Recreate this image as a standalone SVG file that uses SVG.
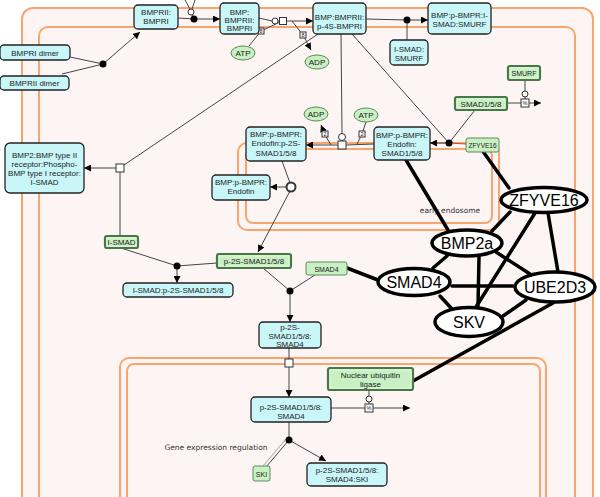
<svg xmlns="http://www.w3.org/2000/svg" width="600" height="497" viewBox="0 0 600 497">
<style>
.comp{fill:#FCF5F4;stroke:#F9A56E;stroke-width:2}
.cx{fill:#C9F7F9;stroke:#222;stroke-width:1.3}
.pr{fill:#C8F0C2;stroke:#5C8A5C;stroke-width:1}
.prm{fill:#C8F0C2;stroke:#4A774A;stroke-width:2.2}
.pri{fill:none;stroke:#E6FBE3;stroke-width:0.8}
.sm{fill:#C8F0C2;stroke:#5C8A5C;stroke-width:1}
.t{font-family:"Liberation Sans",Arial,sans-serif;font-size:8px;fill:#222;text-anchor:middle}
.ts{font-family:"Liberation Sans",Arial,sans-serif;font-size:5.5px;fill:#222;text-anchor:middle}
.lbl{font-family:"DejaVu Sans",sans-serif;font-size:7.5px;fill:#333;text-anchor:middle}
.big{font-family:"Liberation Sans",Arial,sans-serif;font-size:16px;fill:#000;text-anchor:middle}
.ln{fill:none;stroke:#444;stroke-width:1}
.th{fill:none;stroke:#000;stroke-width:3.5;stroke-linecap:round}
.ell{fill:#fff;stroke:#000;stroke-width:3.5}
.dot{fill:#000}
.oc{fill:#fff;stroke:#333;stroke-width:1}
.sq{fill:#fff;stroke:#333;stroke-width:1}
</style>
<defs>
<marker id="ar" viewBox="0 0 10 10" refX="10" refY="5" markerWidth="7" markerHeight="7" orient="auto" markerUnits="userSpaceOnUse">
<path d="M0,0 L10,5 L0,10 z" fill="#000"/>
</marker>
</defs>
<rect width="600" height="497" fill="#fff"/>
<g id="compartments">
<rect class="comp" x="22" y="8" width="571" height="520" rx="11"/>
<rect class="comp" x="39" y="27" width="536" height="500" rx="9"/>
<rect class="comp" x="238" y="143" width="261" height="87" rx="9"/>
<rect class="comp" x="246" y="149" width="246" height="74" rx="7"/>
<text class="lbl" x="450" y="213">early endosome</text>
<rect class="comp" x="120" y="358" width="426" height="160" rx="9"/>
<rect class="comp" x="127" y="364" width="413" height="150" rx="7"/>
<text class="lbl" x="216" y="450">Gene expression regulation</text>
</g>
<g id="connectors">
<line class="ln" x1="70" y1="57" x2="103" y2="64"/>
<line class="ln" x1="62" y1="74" x2="103" y2="64"/>
<line class="ln" x1="103" y1="64" x2="140" y2="32" marker-end="url(#ar)"/>
<line class="ln" x1="185" y1="0" x2="190" y2="9"/>
<line class="ln" x1="195" y1="0" x2="192" y2="9"/>
<line class="ln" x1="192" y1="15" x2="194" y2="19"/>
<line class="ln" x1="178" y1="18" x2="194" y2="19"/>
<line class="ln" x1="194" y1="19" x2="220" y2="19" marker-end="url(#ar)"/>
<line class="ln" x1="259" y1="18" x2="272" y2="21"/>
<line class="ln" x1="249" y1="46" x2="261" y2="31"/>
<line class="ln" x1="261" y1="31" x2="280" y2="22"/>
<line class="ln" x1="278" y1="21" x2="280" y2="21"/>
<line class="ln" x1="287" y1="21" x2="313" y2="21" marker-end="url(#ar)"/>
<polyline class="ln" points="292,21 303,35 311,50" marker-end="url(#ar)"/>
<line class="ln" x1="366" y1="19" x2="407" y2="20"/>
<line class="ln" x1="407" y1="20" x2="428" y2="20" marker-end="url(#ar)"/>
<line class="ln" x1="407" y1="40" x2="407" y2="20"/>
<line class="ln" x1="318" y1="34" x2="124" y2="165"/>
<line class="ln" x1="116" y1="168" x2="84" y2="168" marker-end="url(#ar)"/>
<line class="ln" x1="120" y1="172" x2="120" y2="236"/>
<line class="ln" x1="341" y1="34" x2="342" y2="133"/>
<line class="ln" x1="352" y1="34" x2="449" y2="143"/>
<line class="ln" x1="475" y1="110" x2="449" y2="143"/>
<line class="ln" x1="466" y1="144" x2="449" y2="143" style="stroke:#C0503A"/>
<line class="ln" x1="449" y1="143" x2="430" y2="143" marker-end="url(#ar)"/>
<line class="ln" x1="374" y1="144" x2="346" y2="145"/>
<line class="ln" x1="338" y1="145" x2="306" y2="145" marker-end="url(#ar)"/>
<polyline class="ln" points="366,122 362,134 357,144"/>
<polyline class="ln" points="331,145 325,135 321,125" marker-end="url(#ar)"/>
<line class="ln" x1="282" y1="161" x2="290" y2="183"/>
<line class="ln" x1="288" y1="187" x2="270" y2="187" marker-end="url(#ar)"/>
<line class="ln" x1="290" y1="191" x2="258" y2="252" marker-end="url(#ar)"/>
<line class="ln" x1="121" y1="248" x2="177" y2="266"/>
<line class="ln" x1="217" y1="263" x2="177" y2="266"/>
<line class="ln" x1="177" y1="266" x2="177" y2="283" marker-end="url(#ar)"/>
<line class="ln" x1="263" y1="268" x2="290" y2="291"/>
<line class="ln" x1="315" y1="275" x2="290" y2="291"/>
<line class="ln" x1="290" y1="291" x2="290" y2="322" marker-end="url(#ar)"/>
<line class="ln" x1="289" y1="348" x2="289" y2="359"/>
<line class="ln" x1="289" y1="367" x2="289" y2="397" marker-end="url(#ar)"/>
<line class="ln" x1="331" y1="408" x2="365" y2="408"/>
<line class="ln" x1="373" y1="408" x2="410" y2="408" marker-end="url(#ar)"/>
<line class="ln" x1="369" y1="390" x2="369" y2="396"/>
<line class="ln" x1="369" y1="402" x2="369" y2="404"/>
<line class="ln" x1="507" y1="103" x2="521" y2="103"/>
<line class="ln" x1="529" y1="103" x2="541" y2="103" marker-end="url(#ar)"/>
<line class="ln" x1="525" y1="80" x2="525" y2="91"/>
<line class="ln" x1="525" y1="97" x2="525" y2="99"/>
<line class="ln" x1="289" y1="422" x2="289" y2="440"/>
<line class="ln" x1="266" y1="467" x2="289" y2="440"/>
<line class="ln" x1="263" y1="466" x2="286" y2="439" style="stroke:#666;stroke-width:0.6"/>
<line class="ln" x1="289" y1="440" x2="326" y2="461" marker-end="url(#ar)"/>
<circle class="dot" cx="103" cy="64" r="3.5"/>
<circle class="dot" cx="194" cy="19" r="3.5"/>
<circle class="oc" cx="191" cy="12" r="3"/>
<circle class="oc" cx="275" cy="21" r="3"/>
<rect class="sq" x="279.5" y="17.5" width="7" height="7"/>
<circle class="dot" cx="407" cy="20" r="3.5"/>
<rect class="sq" x="116" y="164" width="8" height="8"/>
<circle class="oc" cx="342" cy="137" r="3.5"/>
<rect class="sq" x="338" y="141" width="8" height="8"/>
<circle class="dot" cx="449" cy="143" r="3.5"/>
<circle cx="291" cy="187" r="4.5" fill="#fff" stroke="#333" stroke-width="2"/>
<circle class="dot" cx="177" cy="266" r="3.5"/>
<circle class="dot" cx="290" cy="291" r="3.5"/>
<rect class="sq" x="285" y="359" width="8" height="8"/>
<rect class="sq" x="365" y="404" width="8" height="8"/>
<text class="ts" x="369" y="410">%</text>
<circle class="oc" cx="369" cy="399" r="3"/>
<rect class="sq" x="521" y="99" width="8" height="8"/>
<text class="ts" x="525" y="105">%</text>
<circle class="oc" cx="525" cy="94" r="3"/>
<circle class="dot" cx="289" cy="440" r="3.5"/>
<rect class="sq" x="258" y="28" width="6" height="6"/>
<text class="ts" x="261" y="33">8</text>
<rect class="sq" x="300" y="32" width="6" height="6"/>
<text class="ts" x="303" y="37">8</text>
<rect class="sq" x="322" y="131" width="6" height="6"/>
<text class="ts" x="325" y="136">2</text>
<rect class="sq" x="359" y="131" width="6" height="6"/>
<text class="ts" x="362" y="136">2</text>
<line class="th" x1="406" y1="160" x2="448" y2="230"/>
<line class="th" x1="482" y1="150" x2="509" y2="188"/>
<line class="th" x1="510" y1="212" x2="492" y2="231"/>
<line class="th" x1="548" y1="213" x2="558" y2="272"/>
<line class="th" x1="535" y1="213" x2="476" y2="307"/>
<line class="th" x1="479" y1="257" x2="478" y2="306"/>
<line class="th" x1="496" y1="252" x2="530" y2="274"/>
<line class="th" x1="447" y1="256" x2="433" y2="268"/>
<line class="th" x1="452" y1="286" x2="513" y2="286"/>
<line class="th" x1="440" y1="296" x2="452" y2="309"/>
<line class="th" x1="526" y1="300" x2="503" y2="316"/>
<line class="th" x1="553" y1="303" x2="413" y2="381"/>
<line class="th" x1="347" y1="268" x2="378" y2="280"/>
</g>
<g id="n-bmpri-dimer"><rect class="cx" x="0" y="45" width="70" height="15" rx="4"/><text class="t" x="35" y="55.5">BMPRI dimer</text></g>
<g id="n-bmprii-dimer"><rect class="cx" x="0" y="76" width="69" height="14" rx="4"/><text class="t" x="34.5" y="86">BMPRII dimer</text></g>
<g id="n-bmprii-bmpri"><rect class="cx" x="134" y="5" width="44" height="24" rx="4"/><text class="t" x="156" y="15">BMPRII:</text><text class="t" x="156" y="24">BMPRI</text></g>
<g id="n-bmp-bmprii-bmpri"><rect class="cx" x="220" y="3" width="39" height="31" rx="4"/><text class="t" x="239.5" y="14.5">BMP:</text><text class="t" x="239.5" y="22.5">BMPRII:</text><text class="t" x="239.5" y="30.5">BMPRI</text></g>
<g id="n-bmp-p4s"><rect class="cx" x="313" y="3" width="53" height="31" rx="4"/><text class="t" x="339.5" y="19.5">BMP:BMPRII:</text><text class="t" x="339.5" y="28.5">p-4S-BMPRI</text></g>
<g id="n-ismad-smurf-complex"><rect class="cx" x="428" y="3" width="63" height="31" rx="4"/><text class="t" x="459.5" y="18">BMP:p-BMPR:I-</text><text class="t" x="459.5" y="27">SMAD:SMURF</text></g>
<g id="n-ismad-smurf"><rect class="cx" x="390" y="40" width="38" height="25" rx="4"/><text class="t" x="409" y="51.5">I-SMAD:</text><text class="t" x="409" y="60.5">SMURF</text></g>
<g id="n-bmp2-complex"><rect class="cx" x="5" y="143" width="79" height="50" rx="5"/><text class="t" x="44.5" y="158">BMP2:BMP type II</text><text class="t" x="44.5" y="167">receptor:Phospho-</text><text class="t" x="44.5" y="176">BMP type I receptor:</text><text class="t" x="44.5" y="185">I-SMAD</text></g>
<g id="n-endofin-p2s"><rect class="cx" x="246" y="127" width="60" height="34" rx="4"/><text class="t" x="276" y="137">BMP:p-BMPR:</text><text class="t" x="276" y="146">Endofin:p-2S-</text><text class="t" x="276" y="155.5">SMAD1/5/8</text></g>
<g id="n-endofin-smad"><rect class="cx" x="374" y="127" width="56" height="33" rx="4"/><text class="t" x="402" y="138">BMP:p-BMPR:</text><text class="t" x="402" y="147">Endofin:</text><text class="t" x="402" y="156">SMAD1/5/8</text></g>
<g id="n-endofin"><rect class="cx" x="212" y="175" width="58" height="25" rx="4"/><text class="t" x="241" y="185">BMP:p-BMPR:</text><text class="t" x="241" y="194">Endofin</text></g>
<g id="n-ismad-p2s"><rect class="cx" x="123" y="283" width="110" height="14" rx="4"/><text class="t" x="178" y="293">I-SMAD:p-2S-SMAD1/5/8</text></g>
<g id="n-p2s-smad4-cyt"><rect class="cx" x="259" y="322" width="62" height="26" rx="4"/><text class="t" x="290" y="330">p-2S-</text><text class="t" x="290" y="338.5">SMAD1/5/8:</text><text class="t" x="290" y="347">SMAD4</text></g>
<g id="n-p2s-smad4-nuc"><rect class="cx" x="251" y="397" width="80" height="25" rx="4"/><text class="t" x="291" y="409.5">p-2S-SMAD1/5/8:</text><text class="t" x="291" y="418.5">SMAD4</text></g>
<g id="n-p2s-smad4-ski"><rect class="cx" x="307" y="463" width="80" height="23" rx="4"/><text class="t" x="347" y="473">p-2S-SMAD1/5/8:</text><text class="t" x="347" y="481.5">SMAD4:SKI</text></g>
<g id="n-smurf"><rect class="prm" x="508" y="66" width="32" height="14" rx="2"/><rect class="pri" x="510" y="68" width="28" height="10"/><text class="t" x="524" y="76" style="font-size:7px">SMURF</text></g>
<g id="n-smad158"><rect class="prm" x="455" y="97" width="52" height="13" rx="2"/><rect class="pri" x="457" y="99" width="48" height="9"/><text class="t" x="481" y="106.5">SMAD1/5/8</text></g>
<g id="n-zfyve16-small"><rect class="pr" x="466" y="138" width="33" height="14" rx="2"/><text class="t" x="482.5" y="148" style="font-size:6.5px">ZFYVE16</text></g>
<g id="n-ismad"><rect class="prm" x="105" y="236" width="33" height="12" rx="2"/><rect class="pri" x="107" y="238" width="29" height="8"/><text class="t" x="121.5" y="245">I-SMAD</text></g>
<g id="n-p2s-smad158"><rect class="prm" x="217" y="254" width="74" height="14" rx="2"/><rect class="pri" x="219" y="256" width="70" height="10"/><text class="t" x="254" y="264">p-2S-SMAD1/5/8</text></g>
<g id="n-smad4-small"><rect class="pr" x="306" y="262" width="41" height="13" rx="2"/><text class="t" x="326.5" y="271.5" style="font-size:7px">SMAD4</text></g>
<g id="n-ski"><rect class="pr" x="253" y="466" width="17" height="15" rx="2"/><text class="t" x="261.5" y="476.5" style="font-size:7px">SKI</text></g>
<g id="n-nuc-ligase"><rect class="prm" x="328" y="368" width="85" height="22" rx="2"/><rect class="pri" x="330" y="370" width="81" height="18"/><text class="t" x="370.5" y="377.5">Nuclear ubiquitin</text><text class="t" x="370.5" y="386.5">ligase</text></g>
<g id="n-atp1"><ellipse class="sm" cx="243" cy="53" rx="12" ry="7"/><text class="t" x="243" y="56">ATP</text></g>
<g id="n-adp1"><ellipse class="sm" cx="317" cy="62" rx="12" ry="7"/><text class="t" x="317" y="65">ADP</text></g>
<g id="n-adp2"><ellipse class="sm" cx="316" cy="114" rx="12" ry="7"/><text class="t" x="316" y="117">ADP</text></g>
<g id="n-atp2"><ellipse class="sm" cx="366" cy="115" rx="12" ry="7"/><text class="t" x="366" y="118">ATP</text></g>
<g id="g-zfyve16"><ellipse class="ell" cx="544" cy="200" rx="43" ry="12.5"/><text class="big" x="544" y="206">ZFYVE16</text></g>
<g id="g-bmp2a"><ellipse class="ell" cx="467" cy="243" rx="35" ry="13"/><text class="big" x="467" y="249">BMP2a</text></g>
<g id="g-smad4"><ellipse class="ell" cx="414" cy="282" rx="36" ry="13.5"/><text class="big" x="414" y="288">SMAD4</text></g>
<g id="g-ube2d3"><ellipse class="ell" cx="555" cy="287" rx="40" ry="15"/><text class="big" x="555" y="293">UBE2D3</text></g>
<g id="g-skv"><ellipse class="ell" cx="469" cy="322" rx="34" ry="14.5"/><text class="big" x="469" y="328">SKV</text></g>
</svg>
